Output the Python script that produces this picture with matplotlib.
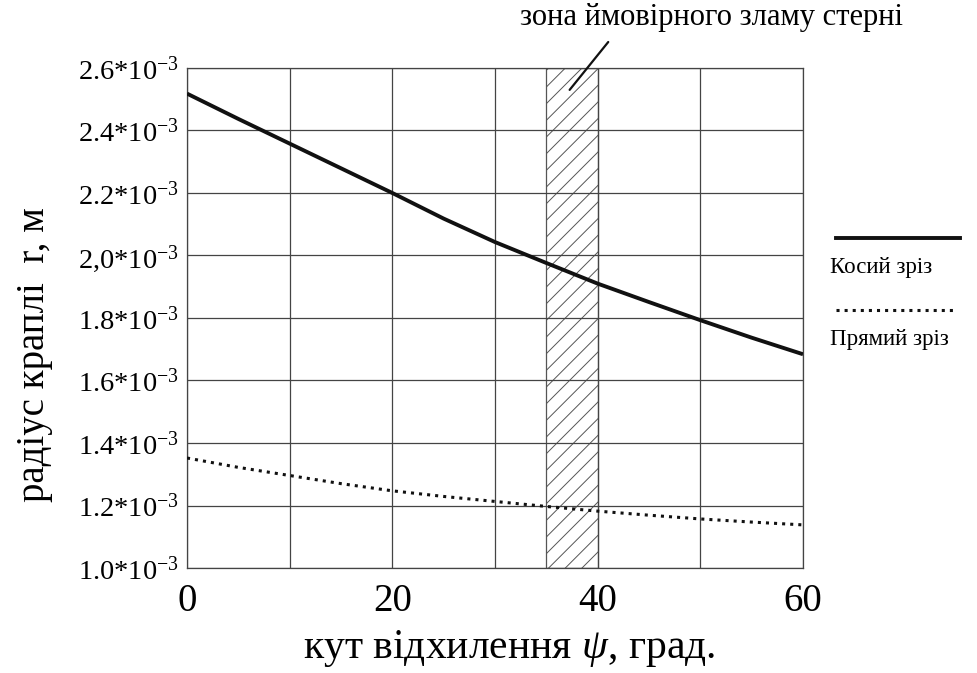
import matplotlib
matplotlib.use("Agg")
import matplotlib.pyplot as plt
from matplotlib.lines import Line2D

plt.rcParams['font.family'] = ['Liberation Serif', 'DejaVu Serif']
plt.rcParams['mathtext.fontset'] = 'custom'
plt.rcParams['mathtext.rm'] = 'Liberation Serif'
plt.rcParams['mathtext.it'] = 'Liberation Serif:italic'
plt.rcParams['hatch.linewidth'] = 0.7

# deflection angle, deg
psi = [0, 5, 10, 15, 20, 25, 30, 35, 40, 45, 50, 55, 60]
# drop radius, *10^-3 m
r_oblique = [2.518, 2.437, 2.358, 2.279, 2.200, 2.118, 2.043, 1.976, 1.910, 1.851, 1.793, 1.737, 1.684]
r_straight = [1.352, 1.322, 1.296, 1.270, 1.247, 1.229, 1.213, 1.197, 1.182, 1.169, 1.157, 1.147, 1.138]

x_ticks = [0, 20, 40, 60]
y_ticks = [1.0, 1.2, 1.4, 1.6, 1.8, 2.0, 2.2, 2.4, 2.6]
y_tick_labels = ['1.0', '1.2', '1.4', '1.6', '1.8', '2,0', '2.2', '2.4', '2.6']
zone = (35, 40)

fig = plt.figure(figsize=(9.77, 6.73), dpi=100)
ax = fig.add_axes([0.1914, 0.156, 0.6305, 0.743])

ax.axvspan(zone[0], zone[1], facecolor='none', edgecolor='#555555', hatch='//', lw=0.9, zorder=1)

line1, = ax.plot(psi, r_oblique, color='#111111', lw=2.8, solid_capstyle='butt', zorder=3)
line2, = ax.plot(psi, r_straight, color='#111111', lw=2.2, linestyle=':', zorder=3)

ax.set_xlim(0, 60)
ax.set_ylim(1.0, 2.6)
ax.set_xticks(x_ticks)
ax.set_xticks(range(0, 61, 10), minor=True)
ax.set_yticks(y_ticks)
ax.set_yticklabels([s + r'*10$^{-3}$' for s in y_tick_labels], fontsize=20.5)
ax.tick_params(axis='x', which='major', labelsize=28, length=0, pad=11)
ax.tick_params(axis='y', length=0, pad=6)
ax.tick_params(which='minor', length=0)
ax.grid(True, which='both', color='#444444', lw=0.9)
for sp in ax.spines.values():
    sp.set_color('#444444')
    sp.set_linewidth(0.9)

ax.set_xlabel(r'кут відхилення $\psi$, град.', fontsize=30, va='center')
ax.xaxis.set_label_coords(0.523, -0.16)
ax.set_ylabel('радіус краплі  r, м', fontsize=28)
ax.yaxis.set_label_coords(-0.218, 0.426)

# zone annotation
ax.annotate('', xy=(37.1, 2.523), xytext=(41.2, 2.69),
            arrowprops=dict(arrowstyle='-', lw=1.6, color='#111111'),
            annotation_clip=False)
ax.text(51.1, 2.76, 'зона ймовірного зламу стерні', fontsize=22,
        ha='center', va='center', clip_on=False)

# legend drawn by hand: sample line above its label
W, H = 977, 673
fig.add_artist(Line2D([836 / W, 960 / W], [1 - 238 / H, 1 - 238 / H],
                      color=line1.get_color(), lw=line1.get_linewidth()))
fig.text(830 / W, 1 - 268 / H, 'Косий зріз', fontsize=16.5, va='center', ha='left')
fig.add_artist(Line2D([836 / W, 955 / W], [1 - 310 / H, 1 - 310 / H],
                      color=line2.get_color(), lw=line2.get_linewidth(), linestyle=':'))
fig.text(830 / W, 1 - 340 / H, 'Прямий зріз', fontsize=16.5, va='center', ha='left')

fig.savefig('out.png', dpi=100)
